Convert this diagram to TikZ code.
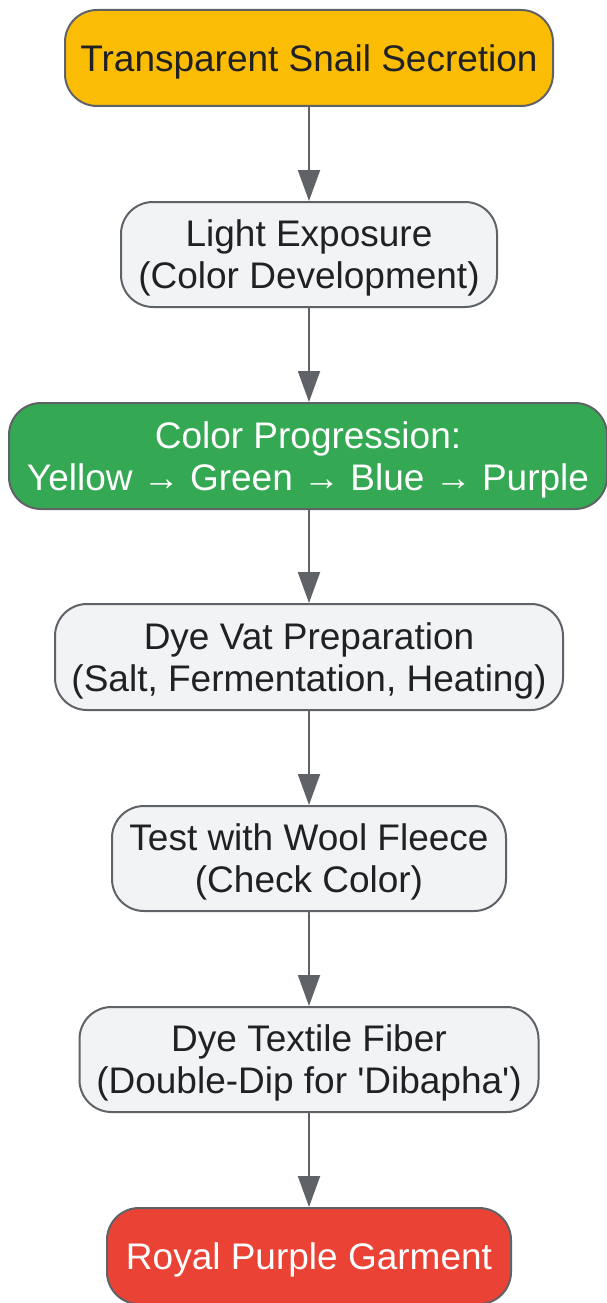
\documentclass[tikz,border=0pt]{standalone}
\usepackage{fontspec}
\setmainfont{Liberation Sans}
\usetikzlibrary{arrows.meta}
\definecolor{cyellow}{HTML}{FBBC04}
\definecolor{cgreen}{HTML}{34A853}
\definecolor{cred}{HTML}{EA4335}
\definecolor{cgray}{HTML}{F1F3F4}
\definecolor{cborder}{HTML}{5F6368}
\definecolor{ctext}{HTML}{202124}
\newcommand{\lowtext}[1]{\raisebox{-5pt}[\height][\depth]{\begin{tabular}{@{}c@{}}#1\end{tabular}}}
\tikzset{
  box/.style={draw=cborder, line width=2pt, rounded corners=32pt, align=center,
    inner sep=0pt, font=\fontsize{37pt}{42pt}\selectfont, text=ctext, fill=cgray},
  startbox/.style={box, fill=cyellow},
  greenbox/.style={box, fill=cgreen, text=white},
  endbox/.style={box, fill=cred, text=white},
  flow/.style={draw=cborder, line width=2pt, -{Triangle[length=31pt,width=22pt]}}
}
\begin{document}
\begin{tikzpicture}[x=1pt,y=-1pt]
\useasboundingbox (0,0) rectangle (606,1303);
\node[startbox, minimum width=488pt, minimum height=96pt] (n1) at (309,58) {\lowtext{Transparent Snail Secretion}};
\node[box, minimum width=376pt, minimum height=105pt] (n2) at (309,254.5) {\lowtext{Light Exposure\\(Color Development)}};
\node[greenbox, minimum width=598pt, minimum height=106pt] (n3) at (308,456) {\lowtext{Color Progression:\\Yellow \symbol{"2192} Green \symbol{"2192} Blue \symbol{"2192} Purple}};
\node[box, minimum width=508pt, minimum height=106pt] (n4) at (309,657) {\lowtext{Dye Vat Preparation\\(Salt, Fermentation, Heating)}};
\node[box, minimum width=394pt, minimum height=105pt] (n5) at (309,858.5) {\lowtext{Test with Wool Fleece\\(Check Color)}};
\node[box, minimum width=459pt, minimum height=105pt] (n6) at (309,1059.5) {\lowtext{Dye Textile Fiber\\(Double-Dip for \textquotesingle Dibapha\textquotesingle)}};
\node[endbox, minimum width=404pt, minimum height=96pt] (n7) at (309,1256) {\lowtext{Royal Purple Garment}};
\draw[flow] (n1.south) -- (n1.south |- n2.north);
\draw[flow] (n2.south) -- (n2.south |- n3.north);
\draw[flow] (n2.south |- n3.south) -- (n4.north);
\draw[flow] (n4.south) -- (n5.north);
\draw[flow] (n5.south) -- (n6.north);
\draw[flow] (n6.south) -- (n7.north);
\end{tikzpicture}
\end{document}
